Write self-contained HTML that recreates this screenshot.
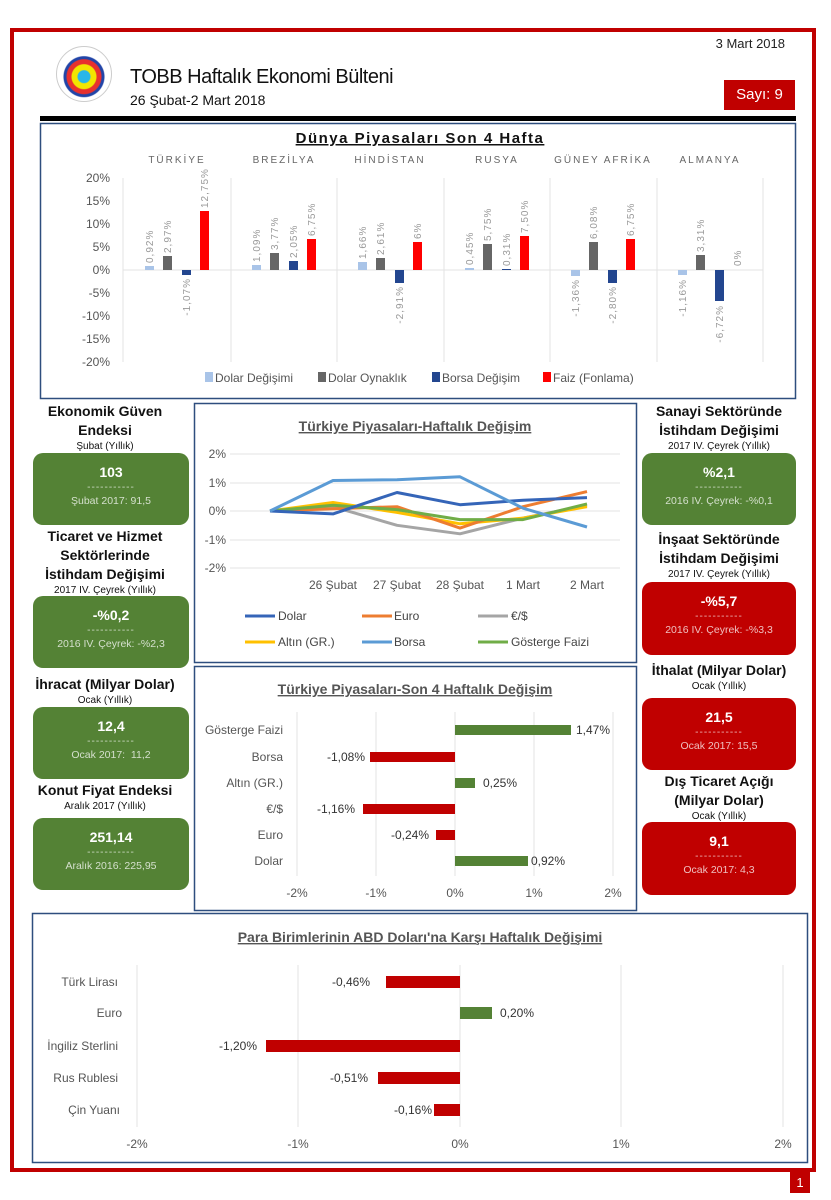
<!DOCTYPE html>
<html><head><meta charset="utf-8"><style>
body{margin:0;width:831px;height:1200px;position:relative;background:#fff;font-family:"Liberation Sans",sans-serif;overflow:hidden}
.a{position:absolute}
.t{position:absolute;text-align:center;font-weight:bold;font-size:14px;color:#111;width:170px;line-height:19px}
.s{font-weight:normal;font-size:10px;line-height:14px}
.box{position:absolute;border-radius:10px;color:#fff;text-align:center}
.box .v{font-size:14px;font-weight:bold;margin-top:11px}
.box .d{font-size:10px;opacity:.7;margin-top:2px;letter-spacing:1px}
.box .u{font-size:10.5px;opacity:.75;margin-top:2px}
.g{background:#548235}.r{background:#c00000}
svg text{font-family:"Liberation Sans",sans-serif}
</style></head><body>
<div class="a" style="left:10px;top:28px;width:798px;height:1136px;border:4px solid #c00000"></div>
<div class="a" style="left:790px;top:1172px;width:20px;height:21px;background:#c00000;color:#fff;font-size:13px;text-align:center;line-height:21px">1</div>
<div class="a" style="left:700px;top:36px;width:85px;text-align:right;font-size:13px;color:#222">3 Mart 2018</div>
<div class="a" style="left:56px;top:46px;width:54px;height:54px;border-radius:50%;border:1px solid #ccc;background:radial-gradient(circle at 50% 55%,#29b6e8 0,#29b6e8 6px,#f2e600 7px,#f2e600 12px,#e8312e 13px,#e8312e 17px,#2245a8 18px,#2245a8 20px,#fff 21px)"></div>
<div class="a" style="left:130px;top:66px;font-size:20px;color:#111;letter-spacing:-0.5px">TOBB Haftalık Ekonomi Bülteni</div>
<div class="a" style="left:130px;top:92px;font-size:14px;color:#111">26 Şubat-2 Mart 2018</div>
<div class="a" style="left:724px;top:80px;width:71px;height:30px;background:#c00000;color:#fff;font-size:15px;line-height:30px;text-align:center">Sayı: 9</div>
<div class="a" style="left:40px;top:116px;width:756px;height:5px;background:#000"></div>

<svg class="a" style="left:0;top:0" width="831" height="1200">
<!-- top chart box -->
<rect x="40.5" y="123.5" width="755" height="275" fill="none" stroke="#2e4e7e" stroke-width="1.5"/>
<text x="420" y="143" text-anchor="middle" font-size="15" font-weight="bold" letter-spacing="1.5" text-decoration="underline" fill="#111">Dünya Piyasaları Son 4 Hafta</text>
<g font-size="10" fill="#666" text-anchor="middle" letter-spacing="2">
<text x="177" y="163">TÜRKİYE</text><text x="284" y="163">BREZİLYA</text><text x="390" y="163">HİNDİSTAN</text><text x="497" y="163">RUSYA</text><text x="603" y="163">GÜNEY AFRİKA</text><text x="710" y="163">ALMANYA</text>
</g>
<g font-size="12" fill="#555" text-anchor="end">
<text x="110" y="182">20%</text><text x="110" y="205">15%</text><text x="110" y="228">10%</text><text x="110" y="251">5%</text><text x="110" y="274">0%</text><text x="110" y="297">-5%</text><text x="110" y="320">-10%</text><text x="110" y="343">-15%</text><text x="110" y="366">-20%</text>
</g>
<g stroke="#e3e3e3"><line x1="123" y1="178" x2="123" y2="362"/><line x1="231" y1="178" x2="231" y2="362"/><line x1="337" y1="178" x2="337" y2="362"/><line x1="444" y1="178" x2="444" y2="362"/><line x1="550" y1="178" x2="550" y2="362"/><line x1="657" y1="178" x2="657" y2="362"/><line x1="763" y1="178" x2="763" y2="362"/><line x1="123" y1="270" x2="763" y2="270"/></g>
<g id="bars"></g>
<g font-size="12" fill="#555">
<rect x="205" y="372" width="8" height="10" fill="#a9c4e8"/><text x="215" y="382">Dolar Değişimi</text>
<rect x="318" y="372" width="8" height="10" fill="#666"/><text x="328" y="382">Dolar Oynaklık</text>
<rect x="432" y="372" width="8" height="10" fill="#23468f"/><text x="442" y="382">Borsa Değişim</text>
<rect x="543" y="372" width="8" height="10" fill="#ff0000"/><text x="553" y="382">Faiz (Fonlama)</text>
</g>

<!-- line chart -->
<rect x="194.5" y="403.5" width="442" height="259" fill="none" stroke="#2e4e7e" stroke-width="1.5"/>
<text x="415" y="431" text-anchor="middle" font-size="14" font-weight="bold" fill="#555" text-decoration="underline">Türkiye Piyasaları-Haftalık Değişim</text>
<g stroke="#e3e3e3"><line x1="230" y1="454" x2="620" y2="454"/><line x1="230" y1="483" x2="620" y2="483"/><line x1="230" y1="511" x2="620" y2="511"/><line x1="230" y1="540" x2="620" y2="540"/><line x1="230" y1="568" x2="620" y2="568"/></g>
<g font-size="12" fill="#555" text-anchor="end"><text x="226" y="458">2%</text><text x="226" y="487">1%</text><text x="226" y="515">0%</text><text x="226" y="544">-1%</text><text x="226" y="572">-2%</text></g>
<g font-size="12" fill="#555" text-anchor="middle"><text x="333" y="589">26 Şubat</text><text x="397" y="589">27 Şubat</text><text x="460" y="589">28 Şubat</text><text x="523" y="589">1 Mart</text><text x="587" y="589">2 Mart</text></g>
<g fill="none" stroke-width="3" stroke-linejoin="round">
<polyline stroke="#a5a5a5" points="270,511 333,506.7 397,525.3 460,533.8 523,518.1 587,505.3"/>
<polyline stroke="#ffc000" points="270,511 333,502.5 397,512.4 460,523.8 523,518.1 587,506.7"/>
<polyline stroke="#ed7d31" points="270,511 333,508.7 397,506.7 460,528.1 523,506.7 587,491.6"/>
<polyline stroke="#70ad47" points="270,511 333,505.3 397,509.6 460,519.6 523,519.6 587,503.9"/>
<polyline stroke="#3565b8" points="270,511 333,513.9 397,492.5 460,504.7 523,500.2 587,497.6"/>
<polyline stroke="#5b9bd5" points="270,511 333,480.5 397,479.7 460,476.8 523,508.2 587,527"/>
</g>
<g font-size="12" fill="#444" stroke-width="3">
<line x1="245" y1="616" x2="275" y2="616" stroke="#3565b8"/><text x="278" y="620">Dolar</text>
<line x1="362" y1="616" x2="392" y2="616" stroke="#ed7d31"/><text x="394" y="620">Euro</text>
<line x1="478" y1="616" x2="508" y2="616" stroke="#a5a5a5"/><text x="511" y="620">€/$</text>
<line x1="245" y1="642" x2="275" y2="642" stroke="#ffc000"/><text x="278" y="646">Altın (GR.)</text>
<line x1="362" y1="642" x2="392" y2="642" stroke="#5b9bd5"/><text x="394" y="646">Borsa</text>
<line x1="478" y1="642" x2="508" y2="642" stroke="#70ad47"/><text x="511" y="646">Gösterge Faizi</text>
</g>

<!-- bar chart 2 -->
<rect x="194.5" y="666.5" width="442" height="244" fill="none" stroke="#2e4e7e" stroke-width="1.5"/>
<text x="415" y="694" text-anchor="middle" font-size="14" font-weight="bold" fill="#555" text-decoration="underline">Türkiye Piyasaları-Son 4 Haftalık Değişim</text>
<g stroke="#e3e3e3"><line x1="297" y1="712" x2="297" y2="876"/><line x1="376" y1="712" x2="376" y2="876"/><line x1="455" y1="712" x2="455" y2="876"/><line x1="534" y1="712" x2="534" y2="876"/><line x1="613" y1="712" x2="613" y2="876"/></g>
<g font-size="12" fill="#555" text-anchor="end"><text x="283" y="734">Gösterge Faizi</text><text x="283" y="761">Borsa</text><text x="283" y="787">Altın (GR.)</text><text x="283" y="813">€/$</text><text x="283" y="839">Euro</text><text x="283" y="865">Dolar</text></g>
<g font-size="12" fill="#555" text-anchor="middle"><text x="297" y="897">-2%</text><text x="376" y="897">-1%</text><text x="455" y="897">0%</text><text x="534" y="897">1%</text><text x="613" y="897">2%</text></g>
<rect x="455" y="725" width="116" height="10" fill="#548235"/><text x="576" y="734" font-size="12" fill="#333">1,47%</text>
<rect x="370" y="752" width="85" height="10" fill="#c00000"/><text x="365" y="761" font-size="12" fill="#333" text-anchor="end">-1,08%</text>
<rect x="455" y="778" width="20" height="10" fill="#548235"/><text x="483" y="787" font-size="12" fill="#333">0,25%</text>
<rect x="363" y="804" width="92" height="10" fill="#c00000"/><text x="355" y="813" font-size="12" fill="#333" text-anchor="end">-1,16%</text>
<rect x="436" y="830" width="19" height="10" fill="#c00000"/><text x="429" y="839" font-size="12" fill="#333" text-anchor="end">-0,24%</text>
<rect x="455" y="856" width="73" height="10" fill="#548235"/><text x="531" y="865" font-size="12" fill="#333">0,92%</text>

<!-- bottom chart -->
<rect x="32.5" y="913.5" width="775" height="249" fill="none" stroke="#2e4e7e" stroke-width="1.5"/>
<text x="420" y="942" text-anchor="middle" font-size="14" font-weight="bold" fill="#555" text-decoration="underline">Para Birimlerinin ABD Doları'na Karşı Haftalık Değişimi</text>
<g stroke="#e3e3e3"><line x1="137" y1="965" x2="137" y2="1127"/><line x1="298" y1="965" x2="298" y2="1127"/><line x1="460" y1="965" x2="460" y2="1127"/><line x1="621" y1="965" x2="621" y2="1127"/><line x1="783" y1="965" x2="783" y2="1127"/></g>
<g font-size="12" fill="#555" text-anchor="end"><text x="118" y="986">Türk Lirası</text><text x="122" y="1017">Euro</text><text x="118" y="1050">İngiliz Sterlini</text><text x="118" y="1082">Rus Rublesi</text><text x="120" y="1114">Çin Yuanı</text></g>
<g font-size="12" fill="#555" text-anchor="middle"><text x="137" y="1148">-2%</text><text x="298" y="1148">-1%</text><text x="460" y="1148">0%</text><text x="621" y="1148">1%</text><text x="783" y="1148">2%</text></g>
<rect x="386" y="976" width="74" height="12" fill="#c00000"/><text x="370" y="986" font-size="12" fill="#333" text-anchor="end">-0,46%</text>
<rect x="460" y="1007" width="32" height="12" fill="#548235"/><text x="500" y="1017" font-size="12" fill="#333">0,20%</text>
<rect x="266" y="1040" width="194" height="12" fill="#c00000"/><text x="257" y="1050" font-size="12" fill="#333" text-anchor="end">-1,20%</text>
<rect x="378" y="1072" width="82" height="12" fill="#c00000"/><text x="368" y="1082" font-size="12" fill="#333" text-anchor="end">-0,51%</text>
<rect x="434" y="1104" width="26" height="12" fill="#c00000"/><text x="432" y="1114" font-size="12" fill="#333" text-anchor="end">-0,16%</text>
</svg>

<svg class="a" style="left:0;top:0" width="831" height="400">
<g font-size="10" fill="#999" letter-spacing="1">
<!-- Türkiye -->
<rect x="145" y="266" width="9" height="4" fill="#a9c4e8"/><text transform="translate(153,263) rotate(-90)">0,92%</text>
<rect x="163" y="256" width="9" height="14" fill="#666"/><text transform="translate(171,253) rotate(-90)">2,97%</text>
<rect x="182" y="270" width="9" height="5" fill="#23468f"/><text transform="translate(190,278) rotate(-90)" text-anchor="end">-1,07%</text>
<rect x="200" y="211" width="9" height="59" fill="#ff0000"/><text transform="translate(208,208) rotate(-90)">12,75%</text>
<!-- Brezilya -->
<rect x="252" y="265" width="9" height="5" fill="#a9c4e8"/><text transform="translate(260,262) rotate(-90)">1,09%</text>
<rect x="270" y="253" width="9" height="17" fill="#666"/><text transform="translate(278,250) rotate(-90)">3,77%</text>
<rect x="289" y="261" width="9" height="9" fill="#23468f"/><text transform="translate(297,258) rotate(-90)">2,05%</text>
<rect x="307" y="239" width="9" height="31" fill="#ff0000"/><text transform="translate(315,236) rotate(-90)">6,75%</text>
<!-- Hindistan -->
<rect x="358" y="262" width="9" height="8" fill="#a9c4e8"/><text transform="translate(366,259) rotate(-90)">1,66%</text>
<rect x="376" y="258" width="9" height="12" fill="#666"/><text transform="translate(384,255) rotate(-90)">2,61%</text>
<rect x="395" y="270" width="9" height="13" fill="#23468f"/><text transform="translate(403,286) rotate(-90)" text-anchor="end">-2,91%</text>
<rect x="413" y="242" width="9" height="28" fill="#ff0000"/><text transform="translate(421,239) rotate(-90)">6%</text>
<!-- Rusya -->
<rect x="465" y="268" width="9" height="2" fill="#a9c4e8"/><text transform="translate(473,265) rotate(-90)">0,45%</text>
<rect x="483" y="244" width="9" height="26" fill="#666"/><text transform="translate(491,241) rotate(-90)">5,75%</text>
<rect x="502" y="269" width="9" height="1" fill="#23468f"/><text transform="translate(510,266) rotate(-90)">0,31%</text>
<rect x="520" y="236" width="9" height="34" fill="#ff0000"/><text transform="translate(528,233) rotate(-90)">7,50%</text>
<!-- Güney Afrika -->
<rect x="571" y="270" width="9" height="6" fill="#a9c4e8"/><text transform="translate(579,279) rotate(-90)" text-anchor="end">-1,36%</text>
<rect x="589" y="242" width="9" height="28" fill="#666"/><text transform="translate(597,239) rotate(-90)">6,08%</text>
<rect x="608" y="270" width="9" height="13" fill="#23468f"/><text transform="translate(616,286) rotate(-90)" text-anchor="end">-2,80%</text>
<rect x="626" y="239" width="9" height="31" fill="#ff0000"/><text transform="translate(634,236) rotate(-90)">6,75%</text>
<!-- Almanya -->
<rect x="678" y="270" width="9" height="5" fill="#a9c4e8"/><text transform="translate(686,279) rotate(-90)" text-anchor="end">-1,16%</text>
<rect x="696" y="255" width="9" height="15" fill="#666"/><text transform="translate(704,252) rotate(-90)">3,31%</text>
<rect x="715" y="270" width="9" height="31" fill="#23468f"/><text transform="translate(723,305) rotate(-90)" text-anchor="end">-6,72%</text>
<text transform="translate(741,266) rotate(-90)">0%</text>
</g>
</svg>

<!-- left column -->
<div class="t" style="left:20px;top:402px">Ekonomik Güven<br>Endeksi<div class="s">Şubat (Yıllık)</div></div>
<div class="box g" style="left:33px;top:453px;width:156px;height:72px"><div class="v">103</div><div class="d">-----------</div><div class="u">Şubat 2017: 91,5</div></div>
<div class="t" style="left:20px;top:527px">Ticaret ve Hizmet<br>Sektörlerinde<br>İstihdam Değişimi<div class="s">2017 IV. Çeyrek (Yıllık)</div></div>
<div class="box g" style="left:33px;top:596px;width:156px;height:72px"><div class="v">-%0,2</div><div class="d">-----------</div><div class="u">2016 IV. Çeyrek: -%2,3</div></div>
<div class="t" style="left:14px;top:675px;width:182px">İhracat (Milyar Dolar)<div class="s">Ocak (Yıllık)</div></div>
<div class="box g" style="left:33px;top:707px;width:156px;height:72px"><div class="v">12,4</div><div class="d">-----------</div><div class="u">Ocak 2017:&nbsp; 11,2</div></div>
<div class="t" style="left:20px;top:781px">Konut Fiyat Endeksi<div class="s">Aralık 2017 (Yıllık)</div></div>
<div class="box g" style="left:33px;top:818px;width:156px;height:72px"><div class="v">251,14</div><div class="d">-----------</div><div class="u">Aralık 2016: 225,95</div></div>

<!-- right column -->
<div class="t" style="left:634px;top:402px">Sanayi Sektöründe<br>İstihdam Değişimi<div class="s">2017 IV. Çeyrek (Yıllık)</div></div>
<div class="box g" style="left:642px;top:453px;width:154px;height:72px"><div class="v">%2,1</div><div class="d">-----------</div><div class="u">2016 IV. Çeyrek: -%0,1</div></div>
<div class="t" style="left:634px;top:530px">İnşaat Sektöründe<br>İstihdam Değişimi<div class="s">2017 IV. Çeyrek (Yıllık)</div></div>
<div class="box r" style="left:642px;top:582px;width:154px;height:73px"><div class="v">-%5,7</div><div class="d">-----------</div><div class="u">2016 IV. Çeyrek: -%3,3</div></div>
<div class="t" style="left:628px;top:661px;width:182px">İthalat (Milyar Dolar)<div class="s">Ocak (Yıllık)</div></div>
<div class="box r" style="left:642px;top:698px;width:154px;height:72px"><div class="v">21,5</div><div class="d">-----------</div><div class="u">Ocak 2017: 15,5</div></div>
<div class="t" style="left:634px;top:772px">Dış Ticaret Açığı<br>(Milyar Dolar)<div class="s">Ocak (Yıllık)</div></div>
<div class="box r" style="left:642px;top:822px;width:154px;height:73px"><div class="v">9,1</div><div class="d">-----------</div><div class="u">Ocak 2017: 4,3</div></div>
</body></html>
